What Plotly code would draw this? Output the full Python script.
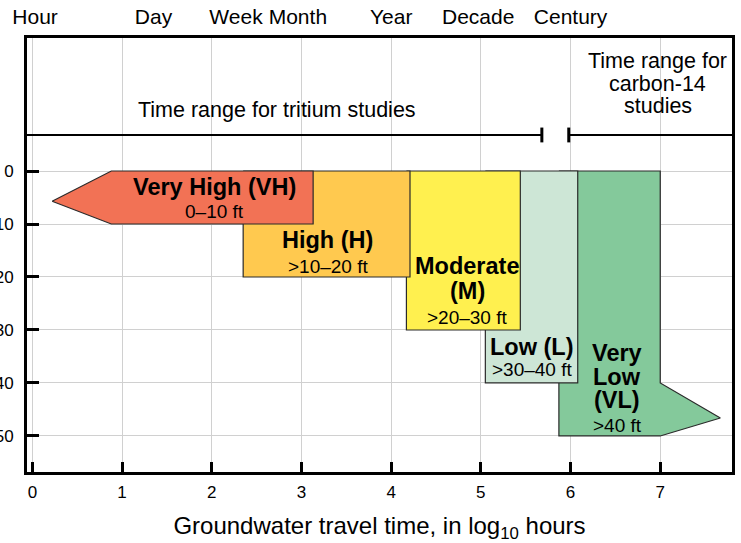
import plotly.graph_objects as go

# ---------------- data ----------------
# Time-span labels on the top axis (positions in log10 hours)
time_labels = ["Hour", "Day", "Week", "Month", "Year", "Decade", "Century"]
time_pos = [0.03, 1.35, 2.27, 2.96, 4.0, 4.97, 6.0]

x_ticks = [0, 1, 2, 3, 4, 5, 6, 7]
y_ticks = [0, 10, 20, 30, 40, 50]

# Category polygons (x = log10 hours, y = depth ft)
cat_names = ["Very Low (VL)", "Low (L)", "Moderate (M)", "High (H)", "Very High (VH)"]
cat_x = [
    [5.87, 7.0, 7.0, 7.67, 7.0, 5.87],
    [5.05, 6.08, 6.08, 5.05],
    [4.17, 5.44, 5.44, 4.17],
    [2.35, 4.21, 4.21, 2.35],
    [0.22, 0.88, 3.13, 3.13, 0.88],
]
cat_y = [
    [0, 0, 40, 46.6, 50, 50],
    [0, 0, 40, 40],
    [0, 0, 30, 30],
    [0, 0, 20, 20],
    [5.7, 0, 0, 10, 10],
]
cat_colors = ["#84C99B", "#CDE6D6", "#FFF04F", "#FFC94F", "#F27255"]

# Category label lines (bold names)
bold_text = ["Very High (VH)", "High (H)", "Moderate", "(M)", "Low (L)", "Very", "Low", "(VL)"]
bold_x = [2.03, 3.29, 4.84, 4.85, 5.57, 6.52, 6.52, 6.52]
bold_y = [3.0, 13.0, 18.0, 22.7, 33.2, 34.3, 38.9, 43.2]
# depth range lines
range_text = ["0–10 ft", ">10–20 ft", ">20–30 ft", ">30–40 ft", ">40 ft"]
range_x = [2.03, 3.30, 4.85, 5.57, 6.52]
range_y = [7.7, 18.1, 27.7, 37.5, 48.1]

# Isotope time-range notes
note_text = ["Time range for tritium studies", "Time range for", "carbon-14", "studies"]
note_x = [2.73, 6.97, 6.97, 6.97]
note_y = [-11.5, -20.8, -16.4, -12.3]

# Isotope time-range lines
tritium_x = [-0.06, 5.68]
carbon_x = [5.98, 7.80]
range_line_y = -6.8
cap_half = 1.4

X_RANGE = [-0.06, 7.80]
Y_RANGE = [56.8, -25.1]

FONT = "Arial, Liberation Sans, Helvetica, sans-serif"

# ---------------- figure ----------------
fig = go.Figure()

for xs, ys, col, nm in zip(cat_x, cat_y, cat_colors, cat_names):
    fig.add_trace(go.Scatter(
        x=xs + [xs[0]], y=ys + [ys[0]], mode="lines", fill="toself",
        fillcolor=col, line=dict(color="#2a2a2a", width=1.2),
        hoverinfo="skip", showlegend=False, name=nm))

for xs in (tritium_x, carbon_x):
    fig.add_trace(go.Scatter(x=xs, y=[range_line_y] * 2, mode="lines",
                             line=dict(color="black", width=2),
                             showlegend=False, hoverinfo="skip"))
for xc in (tritium_x[1], carbon_x[0]):
    fig.add_trace(go.Scatter(x=[xc, xc], y=[range_line_y - cap_half, range_line_y + cap_half],
                             mode="lines", line=dict(color="black", width=3),
                             showlegend=False, hoverinfo="skip"))

# invisible trace so the top axis is drawn
fig.add_trace(go.Scatter(x=time_pos, y=[0] * len(time_pos), xaxis="x2", mode="markers",
                         marker=dict(opacity=0), showlegend=False, hoverinfo="skip"))

for t, x, y in zip(bold_text, bold_x, bold_y):
    fig.add_annotation(x=x, y=y, text="<b>" + t + "</b>", showarrow=False,
                       font=dict(family=FONT, size=23.5, color="black"))
for t, x, y in zip(range_text, range_x, range_y):
    fig.add_annotation(x=x, y=y, text=t, showarrow=False,
                       font=dict(family=FONT, size=19, color="black"))
for t, x, y in zip(note_text, note_x, note_y):
    fig.add_annotation(x=x, y=y, text=t, showarrow=False,
                       font=dict(family=FONT, size=21.5, color="black"))

fig.update_layout(
    width=741, height=543,
    margin=dict(l=27, r=9, t=38, b=71),
    paper_bgcolor="white", plot_bgcolor="white",
    font=dict(family=FONT, color="black"),
    showlegend=False,
    xaxis=dict(range=X_RANGE, tickvals=x_ticks, ticks="inside", ticklen=10, tickwidth=3,
               tickcolor="black", showgrid=True, gridcolor="#d0d0d0", gridwidth=1,
               showline=True, linecolor="black", linewidth=3, mirror=True,
               zeroline=False, tickfont=dict(size=17), tickangle=0, ticklabelstandoff=3,
               title=dict(text="Groundwater travel time, in log<sub>10</sub> hours",
                          font=dict(size=24), standoff=17),
               automargin=False),
    xaxis2=dict(range=X_RANGE, overlaying="x", side="top", tickvals=time_pos,
                ticktext=time_labels, ticks="", showgrid=False, showline=False,
                zeroline=False, tickfont=dict(size=21), tickangle=0, ticklabelstandoff=9,
                automargin=False),
    yaxis=dict(range=Y_RANGE, tickvals=y_ticks, ticks="inside", ticklen=12, tickwidth=3,
               tickcolor="black", showgrid=True, gridcolor="#d0d0d0", gridwidth=1,
               showline=True, linecolor="black", linewidth=3, mirror=True,
               zeroline=False, tickfont=dict(size=17), ticklabelstandoff=7,
               automargin=False),
)

fig.write_html("out.html", config=dict(displayModeBar=False),
               post_script="document.body.style.margin='0';document.body.style.overflow='hidden';")
